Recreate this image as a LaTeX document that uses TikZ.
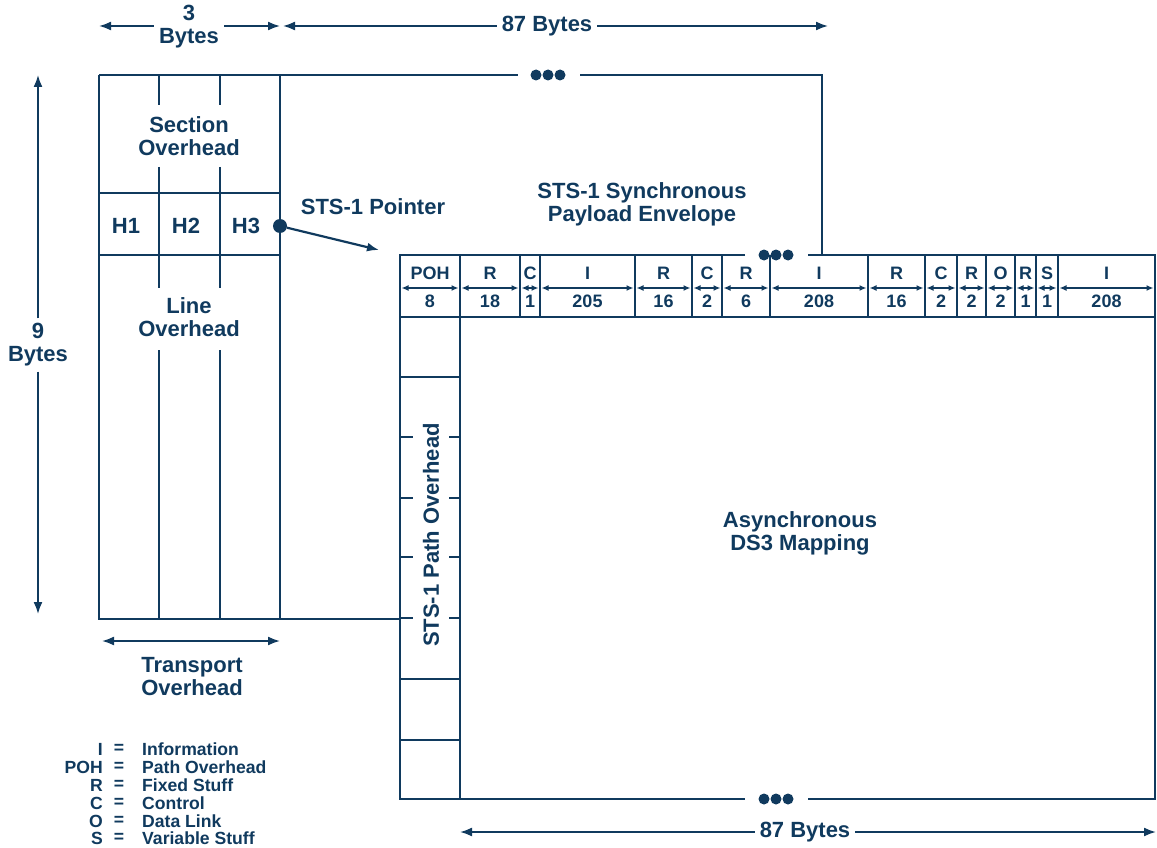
\documentclass[tikz,border=0pt]{standalone}
\usepackage{fontspec}
\setmainfont{Liberation Sans}
\usetikzlibrary{arrows.meta}
\definecolor{navy}{RGB}{16,58,94}
\begin{document}
\begin{tikzpicture}[x=1pt,y=-1pt,
  txt/.style={text=navy,font=\fontsize{22}{23}\selectfont\bfseries,align=center,inner sep=1pt},
  hdr/.style={text=navy,font=\fontsize{18}{20}\selectfont\bfseries,inner sep=0pt},
  leg/.style={text=navy,font=\fontsize{17.6}{18}\selectfont\bfseries,inner sep=0pt},
  ln/.style={draw=navy,line width=2.4pt},
  dimarr/.style={draw=navy,line width=1.8pt,-{Latex[length=12pt,width=9pt]}},
  harr/.style={draw=navy,line width=1.3pt,{Latex[length=7pt,width=6pt]}-{Latex[length=7pt,width=6pt]}},
  dotc/.style={circle,fill=navy,inner sep=0pt,minimum size=11pt}
]
\useasboundingbox (0,0) rectangle (1157,848);

% ---------- transport overhead block ----------
\draw[ln] (99,75) -- (99,619) -- (400,619);
\draw[ln] (99,75) -- (280,75) -- (280,619);
\draw[ln] (99,193) -- (280,193);
\draw[ln] (99,255) -- (280,255);
\foreach \x in {159,220}{
  \draw[ln] (\x,75) -- (\x,105);
  \draw[ln] (\x,167) -- (\x,288);
  \draw[ln] (\x,350) -- (\x,619);
}
\node[txt] (soh) at (189,136) {Section\\Overhead};
\node[txt] (loh) at (189,317) {Line\\Overhead};
\node[txt] (h1) at (126,226) {H1};
\node[txt] (h2) at (186,226) {H2};
\node[txt] (h3) at (246,226) {H3};

% ---------- STS-1 frame top / right ----------
\draw[ln] (280,75) -- (518,75);
\draw[ln] (580,75) -- (822,75) -- (822,255);
\node[dotc] (d1a) at (536,75) {};
\node[dotc] (d1b) at (548,75) {};
\node[dotc] (d1c) at (560,75) {};

% ---------- SPE box ----------
\draw[ln] (745,255) -- (400,255) -- (400,799) -- (745,799);
\draw[ln] (808,255) -- (1155,255) -- (1155,799) -- (808,799);
\node[dotc] (d2a) at (764,255) {};
\node[dotc] (d2b) at (776,255) {};
\node[dotc] (d2c) at (788,255) {};
\node[dotc] (d3a) at (764,799) {};
\node[dotc] (d3b) at (776,799) {};
\node[dotc] (d3c) at (788,799) {};
\draw[ln] (400,317) -- (1155,317);

% header cells
\foreach \a/\b/\l/\v [count=\i] in {400/460/POH/8, 460/520/R/18, 520/540/C/1, 540/635/I/205,
   635/692/R/16, 692/722/C/2, 722/770/R/6, 770/868/I/208, 868/925/R/16, 925/957/C/2,
   957/986/R/2, 986/1015/O/2, 1015/1036/R/1, 1036/1058/S/1, 1058/1155/I/208}{
  \draw[ln] (\b,255) -- (\b,317);
  \node[hdr] (hl\i) at ({(\a+\b)/2},273) {\l};
  \node[hdr] (hv\i) at ({(\a+\b)/2},301) {\v};
  \draw[harr] (\a+1.5,288) -- (\b-1.5,288);
}
\draw[ln] (770,317) -- (770,262);

% path overhead column
\draw[ln] (460,317) -- (460,799);
\foreach \y in {377,679,740}{ \draw[ln] (400,\y) -- (460,\y); }
\foreach \y in {437,498,557,618}{
  \draw[ln] (400,\y) -- (413,\y);
  \draw[ln] (449,\y) -- (460,\y);
}
\node[txt,rotate=90] (poh) at (431,535) {STS-1 Path Overhead};

% ---------- labels ----------
\node[txt] (spe) at (642,204) {STS-1 Synchronous\\Payload Envelope};
\node[txt] (ds3) at (800,533) {Asynchronous\\DS3 Mapping};
\node[txt] (ptr) at (373,207) {STS-1 Pointer};
\node[dotc,minimum size=14pt] (pdot) at (280,226) {};
\coordinate (ptip) at (379,250);
\draw[dimarr,line width=2.2pt] (pdot) -- (ptip);

% ---------- dimensions ----------
\node[txt,inner sep=5pt] (three) at (189,27) {3\\Bytes};
\coordinate (t3l) at (99,26); \coordinate (t3r) at (280,26);
\draw[dimarr] (three.west |- t3l) -- (t3l);
\draw[dimarr] (three.east |- t3r) -- (t3r);

\node[txt,inner sep=5pt] (e87t) at (547,26) {87 Bytes};
\coordinate (t87l) at (283,26); \coordinate (t87r) at (828,26);
\draw[dimarr] (e87t.west) -- (t87l);
\draw[dimarr] (e87t.east) -- (t87r);

\node[txt,inner sep=5pt] (nine) at (38,345) {9\\Bytes};
\coordinate (n9t) at (38,75); \coordinate (n9b) at (38,614);
\draw[dimarr] (nine.north) -- (n9t);
\draw[dimarr] (nine.south) -- (n9b);

\coordinate (tol) at (102,641); \coordinate (tor) at (280,641);
\draw[dimarr,{Latex[length=12pt,width=9pt]}-{Latex[length=12pt,width=9pt]}] (tol) -- (tor);
\node[txt] (tpo) at (192,677) {Transport\\Overhead};

\node[txt,inner sep=5pt] (e87b) at (805,832) {87 Bytes};
\coordinate (b87l) at (460,832); \coordinate (b87r) at (1156,832);
\draw[dimarr] (e87b.west) -- (b87l);
\draw[dimarr] (e87b.east) -- (b87r);

% ---------- legend ----------
\foreach \k/\d/\y [count=\i] in {I/Information/749, POH/Path Overhead/767, R/Fixed Stuff/785,
   C/Control/803, O/Data Link/821, S/Variable Stuff/838}{
  \node[leg,anchor=east] (lk\i) at (103,\y) {\k};
  \node[leg] (le\i) at (119,\y) {=};
  \node[leg,anchor=west] (ld\i) at (142,\y) {\d};
}
\end{tikzpicture}
\end{document}
